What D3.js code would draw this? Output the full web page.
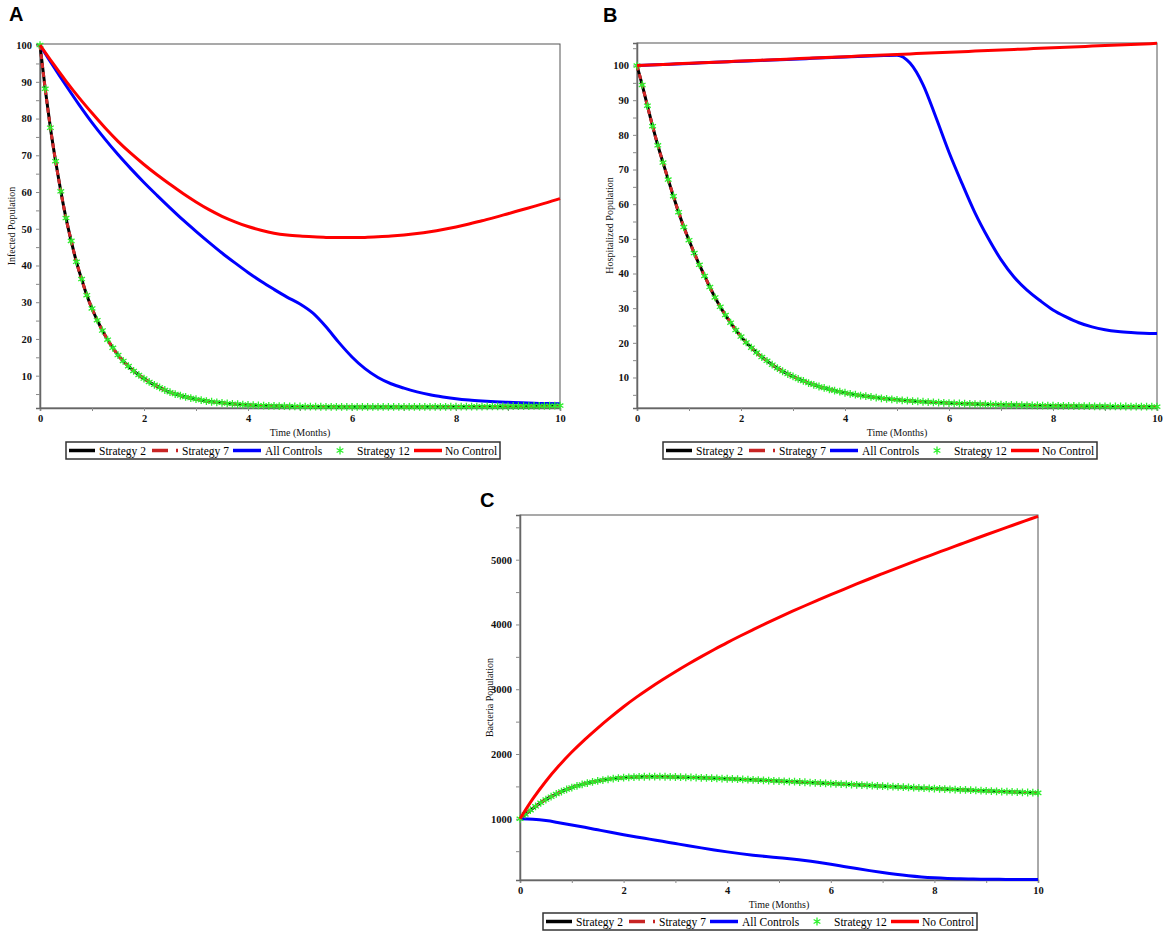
<!DOCTYPE html>
<meta charset="utf-8">
<title>Infected, hospitalized and bacteria populations under control strategies</title>
<style>
  html, body { margin: 0; background: #fff; }
  svg { display: block; font-family: 'Liberation Serif', 'Times New Roman', serif; }
  .tick text { font-size: 10.5px; font-weight: bold; fill: #111; }
  .tick line { stroke: #8a8a8a; }
  .domain { stroke: #666; stroke-width: 1.5px; }
  .frame { fill: none; stroke: #555; stroke-width: 1px; }
  .title { font-size: 10px; fill: #111; }
  .letter { font: bold 20px 'Liberation Sans', Arial, sans-serif; fill: #000; }
  .legend rect { fill: #fff; stroke: #333; stroke-width: 1.5px; }
  .legend text { font-size: 11.5px; dominant-baseline: central; fill: #000; }
  .curve { fill: none; stroke-width: 3px; stroke-linejoin: round; }
  .star { fill: none; stroke: #2cf02c; stroke-width: 1.3px; }
</style>
<svg width="1166" height="935"></svg>
<script src="https://cdn.jsdelivr.net/npm/d3@7"></script>
<script>
  /* global d3 */
  'use strict'

  // ---- data ----
  const seriesNames = ['Strategy 2', 'Strategy 7', 'All Controls', 'Strategy 12', 'No Control']
  const monthTicks = [0, 2, 4, 6, 8, 10]
  const fineMonths = d3.range(101).map(i => i / 10)   // 0, 0.1 … 10 (strategy curves + stars)
  const coarseMonths = d3.range(41).map(i => i / 4)   // 0, 0.25 … 10

  // A: infected population
  const infectedStrategy = [
    100, 88.1, 77.5, 68.4, 60.2, 52.9, 46.7, 41.0, 36.3, 31.9,
    28.3, 25.1, 22.3, 19.8, 17.6, 15.6, 14.0, 12.6, 11.3, 10.2,
    9.2, 8.3, 7.5, 6.8, 6.1, 5.5, 5.0, 4.6, 4.2, 3.9,
    3.6, 3.35, 3.1, 2.9, 2.75, 2.6, 2.45, 2.33, 2.22, 2.12,
    2.03, 1.96, 1.9, 1.85, 1.8, 1.76, 1.72, 1.69, 1.66, 1.63,
    1.61, 1.59, 1.57, 1.55, 1.54, 1.53, 1.52, 1.51, 1.5, 1.5,
    1.49, 1.49, 1.48, 1.48, 1.48, 1.48, 1.48, 1.48, 1.48, 1.48,
    1.48, 1.49, 1.49, 1.5, 1.5, 1.51, 1.51, 1.52, 1.53, 1.54,
    1.55, 1.56, 1.57, 1.58, 1.59, 1.6, 1.62, 1.63, 1.64, 1.66,
    1.67, 1.69, 1.7, 1.72, 1.74, 1.75, 1.77, 1.79, 1.81, 1.83,
    1.85]
  const infectedAll = [
    100, 94.4, 89.0, 83.8, 78.9, 74.4, 70.2, 66.3, 62.6, 59.1,
    55.7, 52.4, 49.3, 46.3, 43.4, 40.7, 38.1, 35.7, 33.5, 31.4,
    29.5, 27.0, 23.3, 19.0, 15.1, 11.9, 9.5, 7.8, 6.6, 5.6,
    4.8, 4.2, 3.7, 3.35, 3.1, 2.9, 2.75, 2.6, 2.5, 2.4,
    2.35]
  const infectedNone = [
    100, 95.0, 90.2, 85.7, 81.5, 77.5, 73.8, 70.5, 67.5, 64.7,
    62.1, 59.6, 57.3, 55.2, 53.4, 51.9, 50.6, 49.6, 48.8, 48.3,
    48.0, 47.8, 47.65, 47.6, 47.6, 47.65, 47.8, 48.0, 48.3, 48.7,
    49.2, 49.8, 50.5, 51.3, 52.2, 53.1, 54.1, 55.1, 56.1, 57.1,
    58.2]
  const infectedTicks = [10, 20, 30, 40, 50, 60, 70, 80, 90, 100]

  // B: hospitalized population
  const hospStrategy = [
    100, 94.4, 88.4, 82.5, 77.0, 72.0, 67.1, 62.3, 57.7, 53.4,
    49.6, 45.9, 42.5, 39.3, 36.1, 33.1, 30.4, 28.0, 25.8, 23.7,
    21.8, 20.1, 18.6, 17.2, 15.9, 14.8, 13.7, 12.7, 11.8, 11.0,
    10.3, 9.6, 9.0, 8.4, 7.9, 7.4, 7.0, 6.6, 6.2, 5.9,
    5.6, 5.3, 5.05, 4.8, 4.6, 4.4, 4.2, 4.0, 3.85, 3.7,
    3.55, 3.42, 3.3, 3.2, 3.1, 3.0, 2.92, 2.84, 2.76, 2.69,
    2.62, 2.56, 2.5, 2.45, 2.4, 2.35, 2.3, 2.26, 2.22, 2.18,
    2.14, 2.1, 2.07, 2.04, 2.01, 1.98, 1.95, 1.92, 1.9, 1.88,
    1.86, 1.84, 1.82, 1.8, 1.78, 1.76, 1.74, 1.72, 1.7, 1.69,
    1.68, 1.66, 1.65, 1.64, 1.63, 1.62, 1.61, 1.6, 1.59, 1.58,
    1.57]
  const hospAll = [
    100, 100.15, 100.31, 100.46, 100.62, 100.77, 100.92, 101.08, 101.23, 101.38,
    101.54, 101.69, 101.84, 101.99, 102.14, 102.29, 102.44, 102.58, 102.72, 102.86,
    103.0, 100.7, 94.5, 85.0, 75.0, 66.0, 57.5, 50.3, 44.0, 39.0,
    35.2, 32.2, 29.5, 27.5, 25.8, 24.6, 23.8, 23.3, 23.0, 22.8,
    22.7]
  const hospNone = [
    100, 100.16, 100.32, 100.48, 100.64, 100.8, 100.96, 101.12, 101.28, 101.44,
    101.6, 101.76, 101.92, 102.08, 102.24, 102.4, 102.56, 102.72, 102.88, 103.04,
    103.2, 103.36, 103.52, 103.68, 103.84, 104.0, 104.16, 104.32, 104.48, 104.64,
    104.8, 104.96, 105.12, 105.28, 105.44, 105.6, 105.76, 105.92, 106.08, 106.24,
    106.4]
  const hospTicks = [10, 20, 30, 40, 50, 60, 70, 80, 90, 100]

  // C: bacteria population
  const bacteriaStrategy = [
    1000, 1068, 1132, 1192, 1247, 1297, 1342, 1383, 1420, 1453,
    1482, 1508, 1531, 1551, 1569, 1585, 1598, 1610, 1620, 1628,
    1635, 1640, 1644, 1647, 1649, 1650, 1650, 1650, 1649, 1647,
    1645, 1643, 1641, 1639, 1636, 1633, 1630, 1627, 1624, 1621,
    1618, 1615, 1611, 1608, 1604, 1601, 1597, 1594, 1590, 1587,
    1583, 1579, 1575, 1572, 1568, 1564, 1560, 1556, 1552, 1548,
    1544, 1540, 1536, 1532, 1528, 1524, 1520, 1516, 1512, 1508,
    1504, 1500, 1496, 1492, 1488, 1485, 1481, 1477, 1473, 1470,
    1466, 1462, 1459, 1455, 1452, 1448, 1445, 1441, 1438, 1434,
    1431, 1428, 1424, 1421, 1418, 1415, 1412, 1409, 1406, 1403,
    1400]
  const bacteriaAll = [
    1000, 992, 972, 940, 905, 868, 830, 792, 755, 720,
    686, 652, 618, 584, 551, 519, 489, 462, 438, 417,
    398, 378, 355, 328, 298, 265, 232, 200, 170, 143,
    120, 102, 89, 80, 74, 70, 67, 65, 64, 63,
    62]
  const bacteriaNone = [
    1000, 1310, 1580, 1817, 2030, 2223, 2401, 2569, 2730, 2878,
    3016, 3146, 3270, 3389, 3503, 3613, 3720, 3822, 3920, 4016,
    4110, 4201, 4289, 4375, 4460, 4543, 4625, 4706, 4785, 4863,
    4940, 5016, 5090, 5164, 5238, 5312, 5385, 5457, 5528, 5599,
    5670]
  const bacteriaTicks = [1000, 2000, 3000, 4000, 5000]

  // ---- layout ----
  const panels = [
    { letter: 'A', lx: 9, ly: 21, left: 40, right: 560, top: 44, bottom: 408,
      domain: [1.2, 100.3], minorStep: 5, ticks: infectedTicks, yTitle: 'Infected Population', yTitleX: 11,
      legendX: 66, legendY: 442, strategy: infectedStrategy, all: infectedAll, none: infectedNone },
    { letter: 'B', lx: 603, ly: 22, left: 637, right: 1157, top: 43, bottom: 408,
      domain: [1.2, 106.5], minorStep: 5, ticks: hospTicks, yTitle: 'Hospitalized Population', yTitleX: 609,
      legendX: 663, legendY: 442, strategy: hospStrategy, all: hospAll, none: hospNone },
    { letter: 'C', lx: 480, ly: 507, left: 520, right: 1038, top: 515, bottom: 880,
      domain: [55, 5690], minorStep: 500, ticks: bacteriaTicks, yTitle: 'Bacteria Population', yTitleX: 489,
      legendX: 543, legendY: 913, strategy: bacteriaStrategy, all: bacteriaAll, none: bacteriaNone },
  ]

  const svg = d3.select('svg')

  // d3 axes put font-family="sans-serif" on their group; drop it so the serif face is used
  function serifAxis(sel) {
    sel.attr('font-family', null).attr('font-size', null)
  }

  function drawPanel(p) {
    let x = d3.scaleLinear([0, 10], [p.left, p.right])
    let y = d3.scaleLinear(p.domain, [p.bottom, p.top])
    let g = svg.append('g')

    g.append('rect').classed('frame', true)
      .attr('x', p.left).attr('y', p.top)
      .attr('width', p.right - p.left).attr('height', p.bottom - p.top)

    // x axis: a tick every month, labels on even months
    g.append('g')
      .attr('transform', `translate(0,${p.bottom})`)
      .call(d3.axisBottom(x).tickValues(d3.range(11)).tickSizeOuter(0).tickSize(3).tickPadding(4)
        .tickFormat(d => monthTicks.includes(d) ? d : ''))
      .call(serifAxis)

    // y axis: minor ticks, labels on the major ones
    let yTicks = d3.range(p.minorStep, p.domain[1], p.minorStep).filter(v => v >= p.domain[0])
    g.append('g')
      .attr('transform', `translate(${p.left},0)`)
      .call(d3.axisLeft(y).tickValues(yTicks).tickSizeOuter(0).tickSize(4).tickPadding(4)
        .tickFormat(d => p.ticks.includes(d) ? d : ''))
      .call(serifAxis)

    g.append('text').classed('title', true)
      .attr('x', (p.left + p.right) / 2).attr('y', p.bottom + 28)
      .attr('text-anchor', 'middle').text('Time (Months)')
    g.append('text').classed('title', true)
      .attr('transform', `translate(${p.yTitleX},${(p.top + p.bottom) / 2}) rotate(-90)`)
      .attr('text-anchor', 'middle').attr('dominant-baseline', 'central')
      .text(p.yTitle)
    svg.append('text').classed('letter', true).attr('x', p.lx).attr('y', p.ly).text(p.letter)

    let line = d3.line().x(d => x(d[0])).y(d => y(d[1])).curve(d3.curveMonotoneX)
    let fine = fineMonths.map((t, i) => [t, p.strategy[i]])
    let allC = coarseMonths.map((t, i) => [t, p.all[i]])
    let noC = coarseMonths.map((t, i) => [t, p.none[i]])

    g.append('path').classed('curve', true).attr('stroke', '#000').attr('d', line(fine))
    g.append('path').classed('curve', true).attr('stroke', '#d42a2a')
      .attr('stroke-dasharray', '5,4').attr('d', line(fine))
    g.append('path').classed('curve', true).attr('stroke', '#0000ff').attr('d', line(allC))
    g.selectAll('.star').data(fine).enter().append('path').classed('star', true)
      .attr('transform', d => `translate(${x(d[0])},${y(d[1])})`)
      .attr('d', d3.symbol(d3.symbolAsterisk, 42))
    g.append('path').classed('curve', true).attr('stroke', '#ff0000').attr('d', line(noC))

    // legend
    let lg = g.append('g').classed('legend', true)
      .attr('transform', `translate(${p.legendX},${p.legendY})`)
    lg.append('rect').attr('width', 434).attr('height', 17)
    let items = [
      { x0: 3, x1: 29, tx: 33, stroke: '#000' },
      { x0: 86, x1: 112, tx: 116, stroke: '#c82424', dash: '16,8' },
      { x0: 167, x1: 195, tx: 199, stroke: '#0000ff' },
      { star: 274, tx: 291 },
      { x0: 348, x1: 376, tx: 379, stroke: '#ff0000' },
    ]
    items.forEach((it, i) => {
      if (it.star) {
        lg.append('path').classed('star', true)
          .attr('transform', `translate(${it.star},8.5)`)
          .attr('d', d3.symbol(d3.symbolAsterisk, 42))
      } else {
        lg.append('line').attr('x1', it.x0).attr('x2', it.x1).attr('y1', 8.5).attr('y2', 8.5)
          .attr('stroke', it.stroke).attr('stroke-width', 3.5)
          .attr('stroke-dasharray', it.dash || null)
      }
      lg.append('text').attr('x', it.tx).attr('y', 9).text(seriesNames[i])
    })
  }

  panels.forEach(drawPanel)
</script>
